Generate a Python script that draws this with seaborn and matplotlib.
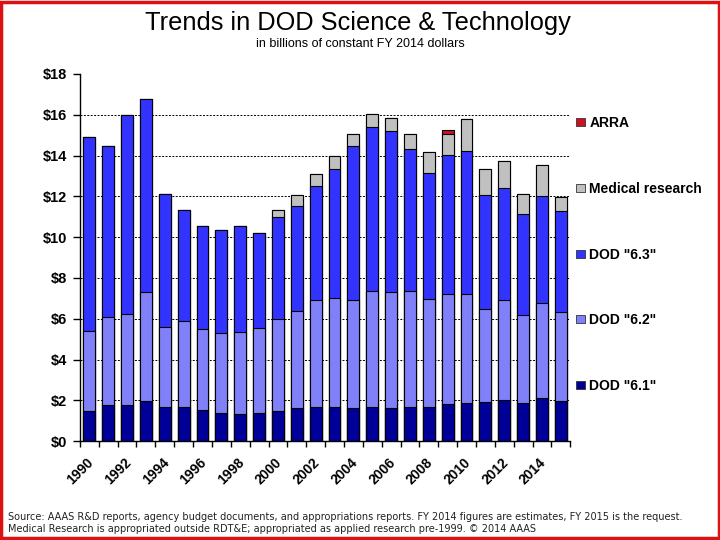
import numpy as np
import pandas as pd
import matplotlib
matplotlib.use("Agg")
from matplotlib import pyplot as plt
from matplotlib.patches import Rectangle, Patch
import matplotlib.transforms as mtransforms
import seaborn as sns

# data (billions of constant FY 2014 dollars)
years = list(range(1990, 2016))
dod61 = [1.48, 1.77, 1.75, 1.97, 1.67, 1.67, 1.52, 1.39, 1.34, 1.39, 1.48, 1.64, 1.67,
         1.67, 1.62, 1.67, 1.62, 1.67, 1.67, 1.84, 1.89, 1.93, 2.02, 1.89, 2.10, 1.97]
dod62 = [3.90, 4.30, 4.48, 5.34, 3.95, 4.20, 3.97, 3.89, 3.99, 4.15, 4.50, 4.72, 5.25,
         5.35, 5.30, 5.71, 5.69, 5.67, 5.30, 5.37, 5.32, 4.55, 4.90, 4.31, 4.66, 4.38]
dod63 = [9.51, 8.38, 9.76, 9.45, 6.51, 5.48, 5.04, 5.08, 5.20, 4.67, 5.01, 5.18, 5.61,
         6.34, 7.54, 8.00, 7.89, 6.96, 6.20, 6.84, 7.01, 5.60, 5.51, 4.92, 5.24, 4.95]
medical = [0, 0, 0, 0, 0, 0, 0, 0, 0, 0, 0.36, 0.53, 0.59,
           0.61, 0.59, 0.67, 0.62, 0.75, 1.03, 1.00, 1.55, 1.28, 1.29, 1.01, 1.56, 0.67]
arra = [0] * 19 + [0.20] + [0] * 6

labels = ['DOD "6.1"', 'DOD "6.2"', 'DOD "6.3"', 'Medical research', 'ARRA']
colors = ['#000099', '#8080f8', '#3333ff', '#c0c0c0', '#cc1122']

df = pd.DataFrame({"year": [str(y) for y in years],
                   "d61": dod61, "d62": dod62, "d63": dod63,
                   "med": medical, "arra": arra})
cols = ["d61", "d62", "d63", "med", "arra"]
cum = df[cols].cumsum(axis=1)

fig = plt.figure(figsize=(7.2, 5.4), dpi=100)
ax = fig.add_axes([0.111, 0.183, 0.681, 0.68])

# stacked bars: draw cumulative totals from the top layer down
for col, c in reversed(list(zip(cols, colors))):
    sns.barplot(x=df["year"], y=cum[col], color=c, saturation=1, width=0.63,
                edgecolor="black", linewidth=0.8, ax=ax, zorder=2)

ax.set_xlim(-0.5, 25.5)
ax.set_ylim(0, 18)
ax.set_xlabel("")
ax.set_ylabel("")

for s in ["top", "right"]:
    ax.spines[s].set_visible(False)
for s in ["left", "bottom"]:
    ax.spines[s].set_color("black")
    ax.spines[s].set_linewidth(1)

yt = list(range(0, 19, 2))
ax.set_yticks(yt)
ax.set_yticklabels([f"\\${v}" for v in yt], fontsize=10.5, fontweight="bold",
                   family="Liberation Sans")
ax.tick_params(axis="y", direction="out", length=5, width=1, color="black", pad=4)

ax.yaxis.grid(True, linestyle=(0, (2, 1.5)), color="black", linewidth=0.7, zorder=0)
ax.set_axisbelow(True)
ax.get_ygridlines()[-1].set_visible(False)

# x: labels every other year, tick marks at category boundaries
ax.set_xticks(range(0, 26, 2))
ax.set_xticklabels(years[::2], rotation=45, ha="right", rotation_mode="anchor",
                   fontsize=10, fontweight="bold", family="Liberation Sans")
ax.tick_params(axis="x", which="major", length=0, pad=10)
ax.set_xticks(np.arange(-0.5, 26, 1), minor=True)
ax.tick_params(axis="x", which="minor", direction="out", length=4, width=1, color="black")
offset = mtransforms.ScaledTranslation(-0.03, 0, fig.dpi_scale_trans)
for lab in ax.get_xticklabels():
    lab.set_transform(lab.get_transform() + offset)

handles = [Patch(facecolor=c, edgecolor="#333333", linewidth=0.6, label=l)
           for l, c in zip(labels, colors)][::-1]
fig.legend(handles=handles, loc="upper left", bbox_to_anchor=(0.782, 0.808),
           frameon=False, handlelength=0.7, handleheight=0.5, handletextpad=0.3,
           labelspacing=3.72, prop={"family": "Liberation Sans", "weight": "bold", "size": 10})

fig.text(0.497, 0.958, "Trends in DOD Science & Technology", ha="center", va="center",
         fontsize=18.3, family="Liberation Sans")
fig.text(0.5, 0.919, "in billions of constant FY 2014 dollars", ha="center", va="center",
         fontsize=9, family="Liberation Sans")

fig.text(0.011, 0.042, "Source: AAAS R&D reports, agency budget documents, and appropriations reports. "
         "FY 2014 figures are estimates, FY 2015 is the request.", ha="left", va="center",
         fontsize=7.0, family="DejaVu Sans", color="#222222")
fig.text(0.011, 0.020, "Medical Research is appropriated outside RDT&E; appropriated as applied "
         "research pre-1999. \u00a9 2014 AAAS", ha="left", va="center",
         fontsize=7.0, family="DejaVu Sans", color="#222222")

fig.patches.append(Rectangle((0.002, 0.003), 0.996, 0.994, transform=fig.transFigure,
                             fill=False, edgecolor="#dd1111", linewidth=2.5))

fig.savefig("out.png", dpi=100)
